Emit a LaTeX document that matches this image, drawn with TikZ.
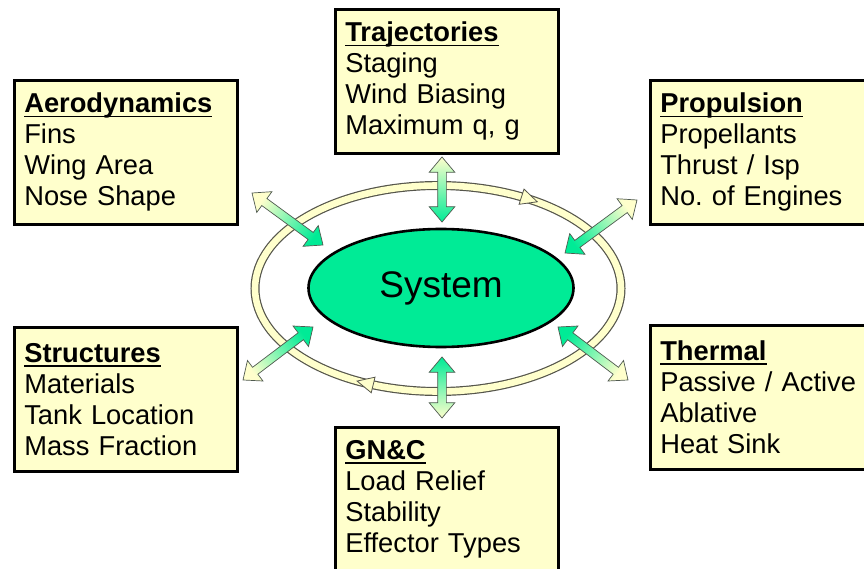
\documentclass[tikz,border=0pt]{standalone}
\usepackage{fontspec}
\setmainfont{Liberation Sans}
\frenchspacing
\definecolor{boxfill}{RGB}{255,255,204}
\definecolor{sysgreen}{RGB}{0,235,150}
\definecolor{ringedge}{RGB}{85,85,75}
\definecolor{arrowedge}{RGB}{80,90,80}
\usetikzlibrary{calc,shapes.geometric,shapes.arrows,decorations.markings}
\tikzset{
  topic/.style={draw=black, line width=2.6pt, fill=boxfill, anchor=north west,
              align=left, text width=203pt, inner xsep=10pt, inner ysep=0pt,
              minimum height=144pt, font=\fontsize{27.3}{31}\selectfont},
  system/.style={ellipse, draw=black, line width=2.6pt, fill=sysgreen,
              minimum width=265pt, minimum height=118pt, font=\fontsize{37}{40}\selectfont},
  fatarrow/.style={double arrow, draw=arrowedge, line width=0.7pt, inner xsep=0pt, inner ysep=4pt,
              double arrow head extend=8.5pt, double arrow tip angle=80,
              top color=sysgreen, bottom color=boxfill},
  ringtip/.style={draw=ringedge, fill=boxfill, line width=0.8pt},
}
\newcommand{\boxhead}[1]{\textbf{\setbox0\hbox{#1}\rlap{\rule[-4.5pt]{\wd0}{1.8pt}}\box0}}
\newcommand{\fatlink}[2]{%
  \path let \p1=($(#2)-(#1)$), \n1={atan2(\y1,\x1)}, \n2={veclen(\x1,\y1)}, \n3={\n1-90} in
    node[fatarrow, rotate=\n1, minimum height=\n2, shading angle=\n3] at ($(#1)!0.5!(#2)$) {};}
\begin{document}
\begin{tikzpicture}[x=1pt,y=-1pt]
        \useasboundingbox (0,0) rectangle (864,569);
        \clip (0,0) rectangle (864,569);

        % ring round the system
        \draw[ringedge, line width=9pt] (438,288.5) ellipse [x radius=183, y radius=103];
        \draw[boxfill, line width=6.6pt, postaction={decorate}, decoration={markings,
            mark=at position 0.33 with {\filldraw[ringtip] (8.5pt,0) -- (-8pt,8pt) -- (-8pt,-8pt) -- cycle;},
            mark=at position 0.851 with {\filldraw[ringtip] (8.5pt,0) -- (-8pt,8pt) -- (-8pt,-8pt) -- cycle;}}]
          (438,288.5) ellipse [x radius=183, y radius=103];

        \node[system] (sys) at (441,288) {System};

        \node[topic] (traj) at (334,8) {\boxhead{Trajectories}\\Staging\\Wind Biasing\\Maximum q, g};
        \node[topic] (aero) at (13,79) {\boxhead{Aerodynamics}\\Fins\\Wing Area\\Nose Shape};
        \node[topic] (prop) at (649,79) {\boxhead{Propulsion}\\Propellants\\Thrust / Isp\\No. of Engines};
        \node[topic] (struc) at (13,326) {\boxhead{Structures}\\Materials\\Tank Location\\Mass Fraction};
        \node[topic] (therm) at (649,324) {\boxhead{Thermal}\\Passive / Active\\Ablative\\Heat Sink};
        \node[topic] (gnc) at (334,426) {\boxhead{GN\&C}\\Load Relief\\Stability\\Effector Types};

        % arrow ends, outer (o) and inner (i)
        \coordinate (trajo) at (442,157);  \coordinate (traji) at (442,222);
        \coordinate (gnco) at (442,418);   \coordinate (gnci) at (442,357);
        \coordinate (aeroo) at (252,193);  \coordinate (aeroi) at (323,245);
        \coordinate (propo) at (637,200);  \coordinate (propi) at (565,253);
        \coordinate (struco) at (243,380); \coordinate (struci) at (313,327);
        \coordinate (thermo) at (628,380); \coordinate (thermi) at (558,327);

        \foreach \k in {traj,gnc,aero,prop,struc,therm} {
          \fatlink{\k o}{\k i}
        }
      \end{tikzpicture}
\end{document}
